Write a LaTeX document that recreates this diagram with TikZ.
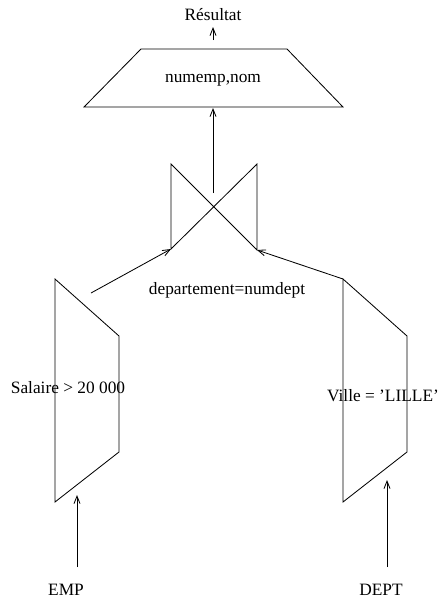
\documentclass[tikz,border=0pt]{standalone}
\usepackage{fontspec}
\setmainfont{Liberation Serif}
\usetikzlibrary{arrows.meta}
\begin{document}
\begin{tikzpicture}[x=0.6pt,y=-0.6pt,
  opshape/.style={line width=0.5pt,line join=miter},
  conn/.style={line width=0.5pt,-{Straight Barb[length=4.5pt,width=3.6pt]}},
  lbl/.style={inner sep=0pt,font=\fontsize{10.4}{12}\selectfont}]
\useasboundingbox (0,0) rectangle (439,600);
% projection trapezoid
\coordinate (pA) at (141,49); \coordinate (pB) at (287,49);
\coordinate (pC) at (343,107); \coordinate (pD) at (84,107);
\draw[opshape] (pA) -- (pB) -- (pC) -- (pD) -- cycle;
\node[lbl] (proj) at (213,80) {numemp,nom};
\node[lbl] (res) at (213,15) {Résultat};
\coordinate (projtop) at (213,40);
\coordinate (restip) at (213,27);
\draw[conn] (projtop) -- (restip);
% join bowtie
\coordinate (j1) at (171,164); \coordinate (j2) at (257,250);
\coordinate (j3) at (171,249); \coordinate (j4) at (257,164);
\draw[opshape] (j1) -- (j2) -- (j4) -- (j3) -- cycle;
\coordinate (jtop) at (213,193);
\coordinate (projbot) at (213,108);
\draw[conn] (jtop) -- (projbot);
\node[lbl] (cond) at (227,290) {departement=numdept};
% left selection
\coordinate (l1) at (55,279); \coordinate (l2) at (119,336);
\coordinate (l3) at (119,452); \coordinate (l4) at (55,502);
\draw[opshape] (l1) -- (l2) -- (l3) -- (l4) -- cycle;
\node[lbl] (sal) at (68,388) {Salaire > 20 000};
\coordinate (lout) at (91,293);
\draw[conn] (lout) -- (j3);
% right selection
\coordinate (r1) at (343,279); \coordinate (r2) at (407,336);
\coordinate (r3) at (407,452); \coordinate (r4) at (343,502);
\draw[opshape] (r1) -- (r2) -- (r3) -- (r4) -- cycle;
\node[lbl] (vil) at (383,396) {Ville = 'LILLE'};
\draw[conn] (r1) -- (j2);
% relations
\node[lbl] (emp) at (66,590) {EMP};
\node[lbl] (dept) at (381,590) {DEPT};
\coordinate (empl) at (77,567); \coordinate (empin) at (77,495);
\coordinate (deptl) at (387,567); \coordinate (deptin) at (387,480);
\draw[conn] (empl) -- (empin);
\draw[conn] (deptl) -- (deptin);
\end{tikzpicture}
\end{document}
